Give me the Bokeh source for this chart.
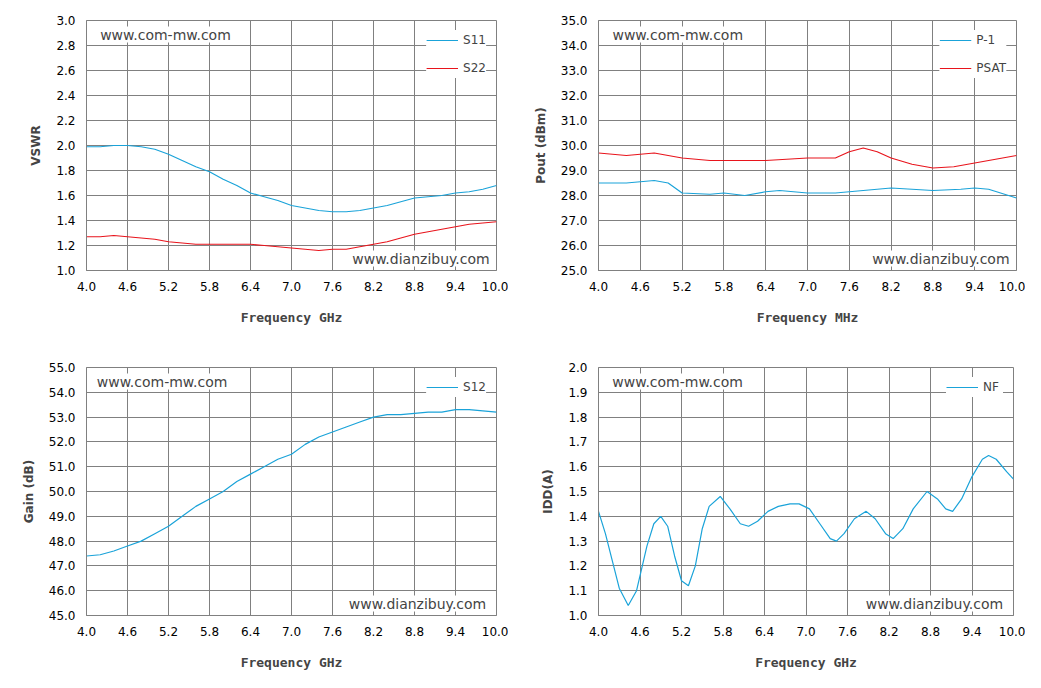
from bokeh.plotting import figure
from bokeh.layouts import gridplot
from bokeh.models import FixedTicker, Legend, LegendItem, Label
from bokeh.embed import file_html
from bokeh.resources import INLINE

BLUE = "#1aa3d9"
RED = "#e8141c"

s_freq = [4.0,4.2,4.4,4.6,4.8,5.0,5.2,5.4,5.6,5.8,6.0,6.2,6.4,6.6,6.8,7.0,7.2,7.4,7.6,7.8,8.0,8.2,8.4,8.6,8.8,9.0,9.2,9.4,9.6,9.8,10.0]
s11 = [1.99,1.99,2.00,2.00,1.99,1.97,1.93,1.88,1.83,1.79,1.73,1.68,1.62,1.59,1.56,1.52,1.50,1.48,1.47,1.47,1.48,1.50,1.52,1.55,1.58,1.59,1.60,1.62,1.63,1.65,1.68]
s22 = [1.27,1.27,1.28,1.27,1.26,1.25,1.23,1.22,1.21,1.21,1.21,1.21,1.21,1.20,1.19,1.18,1.17,1.16,1.17,1.17,1.19,1.21,1.23,1.26,1.29,1.31,1.33,1.35,1.37,1.38,1.39]

p_freq = [4.0,4.4,4.8,5.0,5.2,5.6,5.8,6.1,6.4,6.6,7.0,7.4,7.8,8.2,8.8,9.2,9.4,9.6,10.0]
p1 = [28.5,28.5,28.6,28.5,28.1,28.05,28.1,28.0,28.15,28.2,28.1,28.1,28.2,28.3,28.2,28.25,28.3,28.25,27.9]
ps_freq = [4.0,4.4,4.8,5.2,5.6,6.0,6.4,7.0,7.4,7.6,7.8,8.0,8.2,8.5,8.8,9.1,9.4,9.7,10.0]
psat = [29.7,29.6,29.7,29.5,29.4,29.4,29.4,29.5,29.5,29.75,29.9,29.75,29.5,29.25,29.1,29.15,29.3,29.45,29.6]

s12 = [47.4,47.45,47.6,47.8,48.0,48.3,48.6,49.0,49.4,49.7,50.0,50.4,50.7,51.0,51.3,51.5,51.9,52.2,52.4,52.6,52.8,53.0,53.1,53.1,53.15,53.2,53.2,53.3,53.3,53.25,53.2]

nf_freq = [4.0,4.1,4.2,4.3,4.43,4.55,4.7,4.8,4.9,5.0,5.1,5.2,5.3,5.4,5.5,5.6,5.76,5.9,6.05,6.17,6.3,6.45,6.6,6.77,6.9,7.05,7.2,7.35,7.44,7.55,7.7,7.87,8.0,8.15,8.26,8.4,8.55,8.75,8.9,9.02,9.12,9.25,9.4,9.55,9.64,9.75,9.9,10.0]
nf = [1.42,1.33,1.22,1.11,1.04,1.10,1.28,1.37,1.40,1.36,1.24,1.14,1.12,1.20,1.35,1.44,1.48,1.43,1.37,1.36,1.38,1.42,1.44,1.45,1.45,1.43,1.37,1.31,1.30,1.33,1.39,1.42,1.39,1.33,1.31,1.35,1.43,1.50,1.47,1.43,1.42,1.47,1.56,1.63,1.645,1.63,1.58,1.55]

x_ticks = [4.0,4.6,5.2,5.8,6.4,7.0,7.6,8.2,8.8,9.4,10.0]

def make(yr, yticks, ylabel, xlabel, fw, fh, borders):
    l, r, t, b = borders
    p = figure(frame_width=fw, frame_height=fh, x_range=(4.0, 10.0), y_range=yr,
               output_backend="svg", toolbar_location=None,
               min_border_left=l, min_border_right=r, min_border_top=t, min_border_bottom=b)
    p.xaxis.ticker = FixedTicker(ticks=x_ticks)
    p.yaxis.ticker = FixedTicker(ticks=yticks)
    p.xaxis.major_label_overrides = {v: "%.1f" % v for v in x_ticks}
    p.yaxis.major_label_overrides = {v: "%.1f" % v for v in yticks}
    for ax in (p.xaxis, p.yaxis):
        ax.major_label_text_font = "DejaVu Sans"
        ax.major_label_text_font_size = "12px"
        ax.major_label_text_color = "black"
        ax.axis_line_color = "#808080"
        ax.major_tick_line_color = None
        ax.minor_tick_line_color = None
    p.xaxis.axis_label = xlabel
    p.yaxis.axis_label = ylabel
    p.xaxis.axis_label_text_font = "DejaVu Sans Mono"
    p.xaxis.axis_label_text_font_size = "13px"
    p.yaxis.axis_label_text_font = "DejaVu Sans"
    p.yaxis.axis_label_text_font_size = "12px"
    p.xaxis.axis_label_text_font_style = "bold"
    p.yaxis.axis_label_text_font_style = "bold"
    p.xaxis.axis_label_standoff = 16
    p.yaxis.axis_label_standoff = 10
    p.xgrid.grid_line_color = "#808080"
    p.ygrid.grid_line_color = "#808080"
    p.outline_line_color = "#808080"
    return p

def add_texts(p, yr, left_x, right_x):
    p.add_layout(Label(x=left_x, y=yr[1], text="www.com-mw.com", text_font="DejaVu Sans",
                       text_font_size="14px", y_offset=-22, background_fill_color="white"))
    p.add_layout(Label(x=right_x, y=yr[0], text="www.dianzibuy.com", text_font="DejaVu Sans",
                       text_font_size="14px", text_align="right", y_offset=4,
                       background_fill_color="white"))

def legend(p, items):
    lg = Legend(items=items, location="top_right", border_line_color=None,
                label_text_font="DejaVu Sans", label_text_font_size="12px",
                glyph_width=32, spacing=8, margin=10, background_fill_alpha=1)
    p.add_layout(lg)

p1f = make((1.0, 3.0), [1.0+0.2*i for i in range(11)], "VSWR", "Frequency GHz", 410, 250, (86, 12, 18, 80))
r1 = p1f.line(s_freq, s11, color=BLUE, line_width=1.2)
r2 = p1f.line(s_freq, s22, color=RED, line_width=1.2)
legend(p1f, [LegendItem(label="S11", renderers=[r1]), LegendItem(label="S22", renderers=[r2])])
add_texts(p1f, (1.0, 3.0), 4.2, 9.9)

p2f = make((25.0, 35.0), [25.0+i for i in range(11)], "Pout (dBm)", "Frequency MHz", 418, 250, (89, 10, 20, 78))
r3 = p2f.line(p_freq, p1, color=BLUE, line_width=1.2)
r4 = p2f.line(ps_freq, psat, color=RED, line_width=1.2)
legend(p2f, [LegendItem(label="P-1", renderers=[r3]), LegendItem(label="PSAT", renderers=[r4])])
add_texts(p2f, (25.0, 35.0), 4.2, 9.9)

p3f = make((45.0, 55.0), [45.0+i for i in range(11)], "Gain (dB)", "Frequency GHz", 410, 248, (86, 12, 19, 20))
r5 = p3f.line(s_freq, s12, color=BLUE, line_width=1.2)
legend(p3f, [LegendItem(label="S12", renderers=[r5])])
add_texts(p3f, (45.0, 55.0), 4.15, 9.85)

p4f = make((1.0, 2.0), [1.0+0.1*i for i in range(11)], "IDD(A)", "Frequency GHz", 415, 248, (90, 12, 19, 20))
r6 = p4f.line(nf_freq, nf, color=BLUE, line_width=1.2)
legend(p4f, [LegendItem(label="NF", renderers=[r6])])
add_texts(p4f, (1.0, 2.0), 4.2, 9.85)

g = gridplot([[p1f, p2f], [p3f, p4f]], toolbar_location=None)
open("out.html", "w").write(file_html(g, INLINE))
